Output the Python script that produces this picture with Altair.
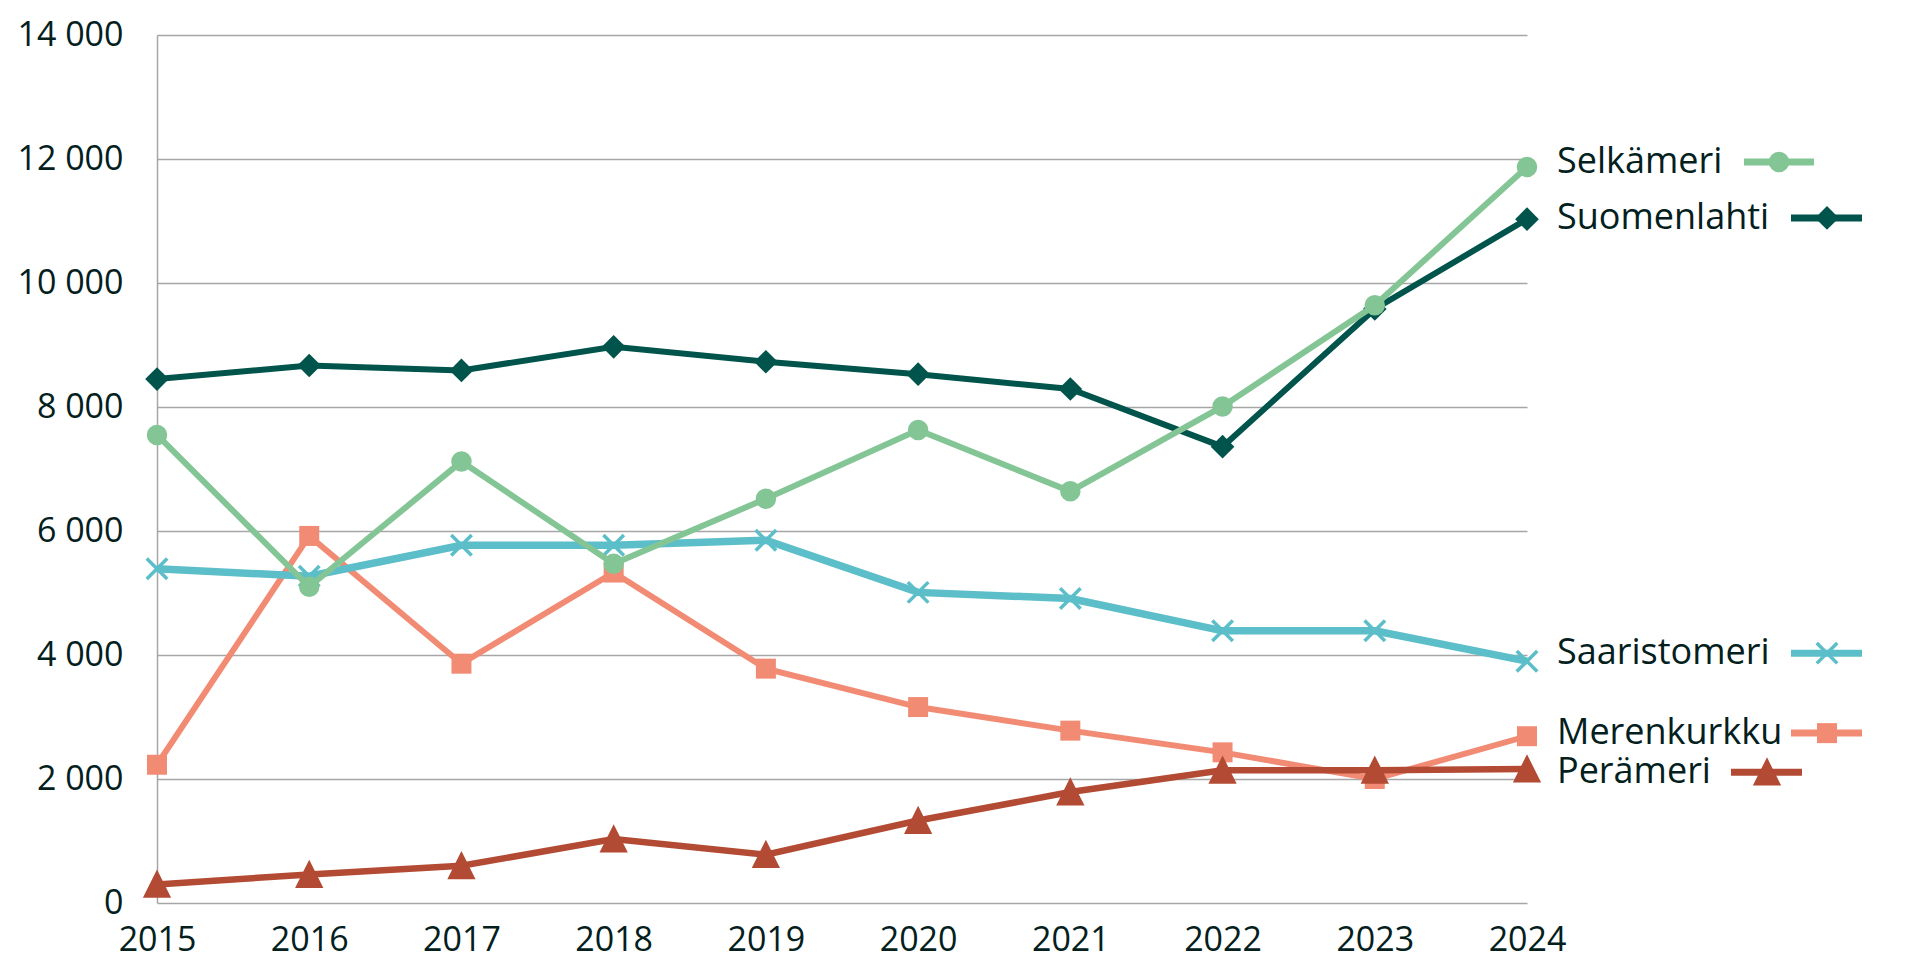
import altair as alt
import pandas as pd

years = [2015, 2016, 2017, 2018, 2019, 2020, 2021, 2022, 2023, 2024]
series_names = ["Selkämeri", "Suomenlahti", "Saaristomeri", "Merenkurkku", "Perämeri"]
selkameri = [7550, 5100, 7120, 5470, 6520, 7630, 6640, 8010, 9640, 11870]
suomenlahti = [8450, 8670, 8590, 8970, 8730, 8530, 8290, 7360, 9580, 11030]
saaristomeri = [5390, 5270, 5770, 5770, 5850, 5010, 4910, 4390, 4390, 3900]
merenkurkku = [2230, 5920, 3860, 5330, 3780, 3160, 2780, 2430, 2000, 2690]
perameri = [300, 460, 600, 1030, 780, 1330, 1790, 2140, 2140, 2160]
label_y = [11950, 11050, 4030, 2740, 2110]
y_ticks = [0, 2000, 4000, 6000, 8000, 10000, 12000, 14000]

values = [selkameri, suomenlahti, saaristomeri, merenkurkku, perameri]
rows = []
for name, vals in zip(series_names, values):
    for yr, v in zip(years, vals):
        rows.append({"series": name, "year": yr, "value": v})
df = pd.DataFrame(rows)
lab = pd.DataFrame({"series": series_names, "value": label_y, "year": [years[-1]] * len(series_names)})

FONT = "Open Sans"
TEXT = "#03201d"
GRID = "#a6a6a6"

styles = {
    "Selkämeri": dict(color="#84c595", sw=6, shape="circle", size=420, filled=True, l0=217, l1=287, m=252),
    "Suomenlahti": dict(color="#00544b", sw=6, shape="diamond", size=560, filled=True, l0=264, l1=335, m=300),
    "Saaristomeri": dict(color="#5bbec8", sw=7.5, shape="M-1,-1L1,1M1,-1L-1,1", size=420, filled=False, l0=264, l1=335, m=300),
    "Merenkurkku": dict(color="#f28b74", sw=6, shape="square", size=400, filled=True, l0=264, l1=335, m=300),
    "Perämeri": dict(color="#b34a33", sw=6.5, shape="M0,-1.05L1,0.95L-1,0.95Z", size=800, filled=True, l0=204, l1=275, m=240),
}
draw_order = ["Merenkurkku", "Perämeri", "Saaristomeri", "Suomenlahti", "Selkämeri"]

xscale = alt.Scale(domain=[years[0], years[-1]], nice=False, zero=False)
yscale = alt.Scale(domain=[0, 14000], nice=False)

xaxis = alt.Axis(values=years, format="d", title=None, ticks=False, domain=False, grid=False,
                 labelFlush=False, labelOverlap=False,
                 labelFont=FONT, labelFontSize=34, labelColor=TEXT, labelPadding=20)
yaxis = alt.Axis(values=y_ticks, title=None, ticks=False, domain=True, domainColor=GRID, domainWidth=1.5,
                 grid=True, gridColor=GRID, gridWidth=1.5, labelFlush=False,
                 labelExpr="replace(format(datum.value, ',d'), ',', ' ')",
                 labelFont=FONT, labelFontSize=34, labelColor=TEXT, labelPadding=34)

X = alt.X("year:Q", scale=xscale, axis=xaxis)
Y = alt.Y("value:Q", scale=yscale, axis=yaxis)

base = alt.Chart(df)
layers = []
for name in draw_order:
    st = styles[name]
    sub = base.transform_filter(alt.datum.series == name)
    layers.append(sub.mark_line(color=st["color"], strokeWidth=st["sw"]).encode(x=X, y=Y))
    if st["filled"]:
        pt = sub.mark_point(shape=st["shape"], size=st["size"], filled=True, color=st["color"], opacity=1)
    else:
        pt = sub.mark_point(shape=st["shape"], size=st["size"], filled=False, color=st["color"],
                            strokeWidth=3.5, opacity=1)
    layers.append(pt.encode(x=X, y=Y))

lbase = alt.Chart(lab)
layers.append(lbase.mark_text(align="left", baseline="middle", dx=30, font=FONT, fontSize=36, color=TEXT).encode(
    x=X, y=Y, text="series:N"))
for name in series_names:
    st = styles[name]
    sub = lbase.transform_filter(alt.datum.series == name)
    layers.append(sub.mark_rule(color=st["color"], strokeWidth=7, xOffset=st["l0"], x2Offset=st["l1"]).encode(
        x=X, x2="year:Q", y=Y))
    if st["filled"]:
        pt = sub.mark_point(shape=st["shape"], size=st["size"], filled=True, color=st["color"], opacity=1,
                            xOffset=st["m"])
    else:
        pt = sub.mark_point(shape=st["shape"], size=st["size"], filled=False, color=st["color"],
                            strokeWidth=3.5, opacity=1, xOffset=st["m"])
    layers.append(pt.encode(x=X, y=Y))

chart = alt.layer(*layers).properties(
    width=1370, height=868,
    background="white",
    autosize=alt.AutoSizeParams(type="none"),
    padding={"left": 149, "top": 27, "right": 380, "bottom": 56},
).configure_view(stroke=None)

chart.save("out.html", embed_options={"renderer": "svg", "actions": False})
